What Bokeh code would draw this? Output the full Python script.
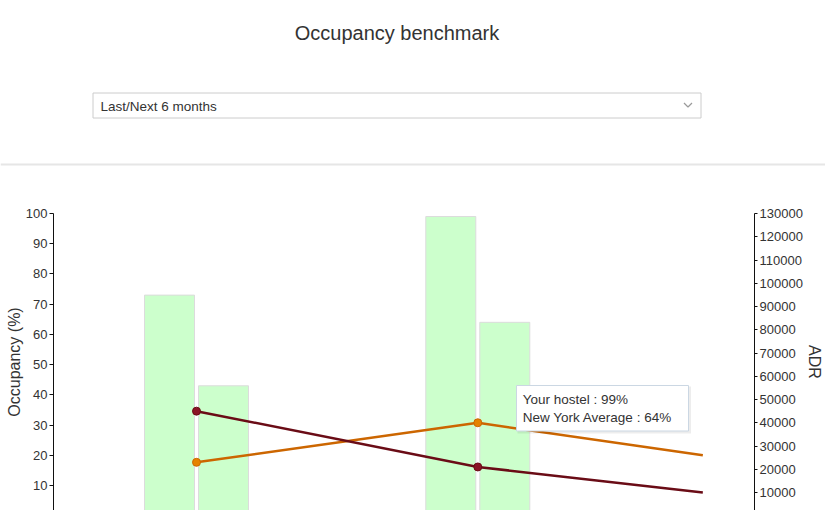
from bokeh.plotting import figure
from bokeh.models import Range1d, LinearAxis, FixedTicker, BasicTickFormatter
from bokeh.layouts import column
from bokeh.core.properties import value
from bokeh.embed import file_html
from bokeh.resources import INLINE

# ---------------- data ----------------
title_text = "Occupancy benchmark"
period_label = "Last/Next 6 months"
series_names = ["Your hostel", "New York Average"]
group_x = [0, 1]                      # period positions
hostel_occ = [73, 99]                 # Occupancy (%) - your hostel
ny_occ = [43, 64]                     # Occupancy (%) - New York average
adr_x = [0, 1, 1.8]
hostel_adr = [45000, 21000, 10000]    # ADR - your hostel
ny_adr = [23000, 40000, 26000]        # ADR - New York average
occ_ticks = list(range(0, 101, 10))
adr_ticks = list(range(0, 130001, 10000))
tooltip_index = 1

# ---------------- layout constants ----------------
FONT = "Liberation Sans"
TXT = "#333333"
W, H_TOP, H_CHART = 825, 180, 330
FL, FR, FT, FB = 53, 754, 213, 510          # frame edges in page pixels
GROUP_PX0, GROUP_STEP = 196.0, 281.3        # page x of first group, px per group
X0 = -(GROUP_PX0 - FL) / GROUP_STEP
X1 = (FR - GROUP_PX0) / GROUP_STEP
Y0, Y1 = 1.75, 100.0
ADR_SCALE = 1300.0

def px2x(px):
    return X0 + (px - FL) / (FR - FL) * (X1 - X0)

def px2y(py):
    return Y0 + (FB - py) / (FB - FT) * (Y1 - Y0)

# ---------------- header (title, dropdown, separator) ----------------
top = figure(width=W, height=H_TOP, x_range=Range1d(0, W), y_range=Range1d(H_TOP, 0),
             output_backend="svg", toolbar_location=None, min_border=0,
             x_axis_location=None, y_axis_location=None, frame_align=False)
top.grid.visible = False
top.outline_line_color = None
top.text(x=[396.5], y=[32.5], text=[title_text], text_font=value(FONT),
         text_font_size="20px", text_color=TXT, text_align="center",
         text_baseline="middle")
top.quad(left=[92.5], right=[700.5], top=[92.5], bottom=[117.5],
         fill_color="white", line_color="#cccccc", line_width=1)
top.text(x=[100], y=[105.5], text=[period_label], text_font=value(FONT),
         text_font_size="13.5px", text_color=TXT, text_align="left",
         text_baseline="middle")
top.line(x=[683.5, 687.5, 691.5], y=[102.5, 106.5, 102.5], line_color="#9a9a9a",
         line_width=1.2)
top.line(x=[0, W], y=[164, 164], line_color="#e6e6e6", line_width=2)

# ---------------- chart ----------------
chart = figure(width=W, height=H_CHART, x_range=Range1d(X0, X1), y_range=Range1d(Y0, Y1),
               output_backend="svg", toolbar_location=None, x_axis_location=None,
               min_border_left=FL, min_border_right=W - FR,
               min_border_top=FT - H_TOP, min_border_bottom=0, frame_align=False)
chart.grid.visible = False
chart.outline_line_color = None
chart.extra_y_ranges = {"adr": Range1d(Y0 * ADR_SCALE, Y1 * ADR_SCALE)}

left_ax = chart.yaxis[0]
left_ax.ticker = FixedTicker(ticks=occ_ticks)
left_ax.axis_label = "Occupancy (%)"
left_ax.major_label_standoff = 2
left_ax.axis_label_standoff = 0
left_ax.major_tick_out = 4

right_ax = LinearAxis(y_range_name="adr", ticker=FixedTicker(ticks=adr_ticks),
                      formatter=BasicTickFormatter(use_scientific=False), axis_label="ADR")
right_ax.major_label_standoff = 2
right_ax.axis_label_standoff = 0
right_ax.major_tick_out = 3
chart.add_layout(right_ax, "right")

for ax in (left_ax, right_ax):
    ax.major_label_text_font = FONT
    ax.major_label_text_font_size = "13px"
    ax.major_label_text_color = TXT
    ax.axis_label_text_font = FONT
    ax.axis_label_text_font_size = "16px"
    ax.axis_label_text_font_style = "normal"
    ax.axis_label_text_color = TXT
    ax.major_tick_in = 0
    ax.minor_tick_line_color = None
    ax.axis_line_color = "#111111"
    ax.major_tick_line_color = "#111111"

bar_w = 50.0 / GROUP_STEP
bar_off = 27.0 / GROUP_STEP
chart.vbar(x=[g - bar_off for g in group_x], top=hostel_occ, bottom=0, width=bar_w,
           fill_color="#ccffcc", line_color="#dcdcdc", line_width=1)
chart.vbar(x=[g + bar_off for g in group_x], top=ny_occ, bottom=0, width=bar_w,
           fill_color="#ccffcc", line_color="#dcdcdc", line_width=1)

RED, RED_M = "#6a0c16", "#8a1426"
ORG, ORG_M = "#cc6600", "#e58200"
chart.line(adr_x, ny_adr, y_range_name="adr", line_color=ORG, line_width=2.5)
chart.line(adr_x, hostel_adr, y_range_name="adr", line_color=RED, line_width=2.5)
chart.scatter(adr_x[:2], ny_adr[:2], y_range_name="adr", size=8, fill_color=ORG_M,
              line_color=ORG, line_width=1)
chart.scatter(adr_x[:2], hostel_adr[:2], y_range_name="adr", size=8, fill_color=RED_M,
              line_color=RED, line_width=1)

# tooltip for the hovered period
tl, tr, tt, tb = 516, 688, 385, 430.5
chart.quad(left=[px2x(tl + 1)], right=[px2x(tr + 2.5)], top=[px2y(tt + 1)], bottom=[px2y(tb + 2.5)],
           fill_color="#000000", fill_alpha=0.07, line_color=None)
chart.quad(left=[px2x(tl)], right=[px2x(tr)], top=[px2y(tt)], bottom=[px2y(tb)],
           fill_color="white", line_color="#cbd7e3", line_width=1)
tip_lines = [f"{series_names[0]} : {hostel_occ[tooltip_index]}%",
             f"{series_names[1]} : {ny_occ[tooltip_index]}%"]
chart.text(x=[px2x(522.3)] * 2, y=[px2y(398.8), px2y(417.2)], text=tip_lines,
           text_font=value(FONT), text_font_size="13.5px", text_color=TXT,
           text_align="left", text_baseline="middle")

layout = column(top, chart, spacing=0)
open("out.html", "w").write(file_html(layout, INLINE))
